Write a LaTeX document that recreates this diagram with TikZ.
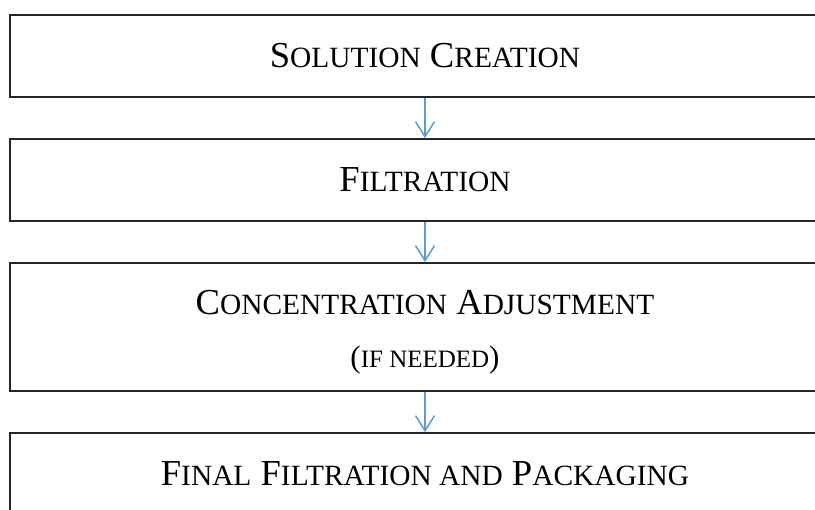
\documentclass[tikz,border=0pt]{standalone}
\usepackage{fontspec}
\setmainfont{Liberation Serif}
\usetikzlibrary{arrows.meta}
\definecolor{arrowblue}{RGB}{91,155,213}
\newcommand\bigtxt{\fontsize{36.6bp}{40bp}\selectfont}
\newcommand\Sc[1]{{\fontsize{29.4bp}{32bp}\selectfont #1}}
\newcommand\midtxt{\fontsize{31bp}{34bp}\selectfont}
\newcommand\Scs[1]{{\fontsize{25bp}{28bp}\selectfont #1}}
\begin{document}
\begin{tikzpicture}[x=1bp,y=-1bp,
  stagebox/.style={draw=black!85, line width=1.9bp, minimum width=830bp, minimum height=82bp, inner sep=0pt, font=\bigtxt},
  flowarrow/.style={draw=arrowblue, line width=1.5bp, -{Straight Barb[length=15bp,width=19bp,line width=1.5bp]}}]
\useasboundingbox (0,0) rectangle (815,510);
\clip (0,0) rectangle (815,510);
\node[stagebox] (b1) at (425,56) {S\Sc{OLUTION} C\Sc{REATION}};
\node[stagebox] (b2) at (425,180) {F\Sc{ILTRATION}};
\node[stagebox, minimum height=128bp] (b3) at (425,327) {};
\node[font=\bigtxt, inner sep=0pt] (t3a) at (425,303) {C\Sc{ONCENTRATION} A\Sc{DJUSTMENT}};
\node[font=\midtxt, inner sep=0pt] (t3b) at (425,360) {(\Scs{IF NEEDED})};
\node[stagebox] (b4) at (425,474) {F\Sc{INAL} F\Sc{ILTRATION AND} P\Sc{ACKAGING}};
\draw[flowarrow] (b1.south) -- (b2.north);
\draw[flowarrow] (b2.south) -- (b3.north);
\draw[flowarrow] (b3.south) -- (b4.north);
\end{tikzpicture}
\end{document}
